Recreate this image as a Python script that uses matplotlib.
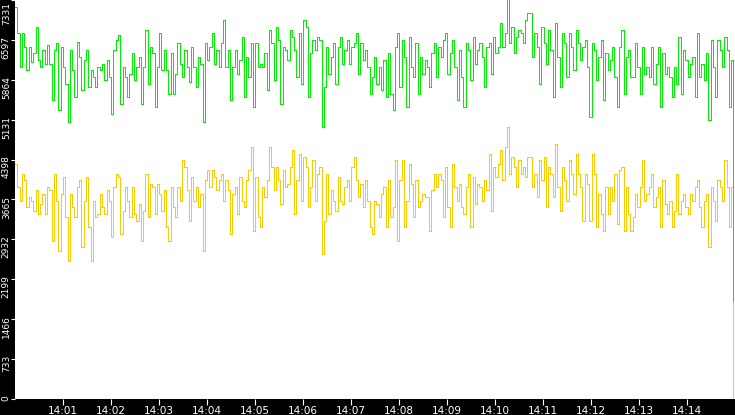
import numpy as np
import pandas as pd
import matplotlib
matplotlib.use("Agg")
import matplotlib.pyplot as plt
import matplotlib.dates as mdates
from matplotlib.transforms import ScaledTranslation

# values, one sample every ~3 s from 14:00:00
green = [
    7208, 6717, 6103, 6717, 6471, 6042, 6471, 6195, 6349, 6840, 6226, 6103, 6410, 6164, 6502,
    6164, 5490, 6410, 6533, 5305, 6471, 6103, 5796, 5090, 6410, 6042, 5550, 6564, 6287, 5673,
    6226, 6410, 5735, 6042, 5919, 5735, 6103, 6042, 6164, 5857, 6226, 5919, 5243, 6410, 6594,
    6686, 5428, 6103, 5919, 5550, 5980, 6349, 5857, 6103, 6287, 5428, 6103, 6778, 5796, 6471,
    6349, 5366, 6103, 6717, 6042, 6410, 6042, 5612, 6349, 5612, 5980, 6533, 6164, 5919, 6410,
    6103, 5827, 6471, 6103, 5735, 6287, 6164, 5090, 6533, 6226, 6471, 6717, 6164, 6410, 6103,
    6533, 6963, 6103, 6410, 5489, 6103, 6410, 5980, 6226, 6656, 5550, 6287, 5919, 6533, 5366,
    6533, 6103, 6164, 6103, 6349, 5673, 6778, 6533, 5857, 6840, 6594, 5428, 6471, 6410, 6226,
    6778, 6656, 6410, 5919, 6717, 5796, 6963, 6840, 5550, 6349, 6594, 6410, 6656, 6594, 4998,
    5735, 6471, 5980, 6287, 6533, 5796, 6471, 6656, 6164, 6410, 6594, 6164, 6471, 6533, 6717,
    5980, 6533, 6226, 6410, 6103, 5612, 5919, 6287, 5796, 6103, 5673, 6226, 5550, 6349, 5612,
    5305, 6471, 6717, 5735, 6594, 6287, 5366, 6656, 6103, 5919, 6533, 5612, 6287, 5980, 6226,
    6103, 5735, 6349, 6533, 5919, 6471, 6287, 6594, 6717, 5980, 6349, 6594, 6103, 5489, 6410,
    5919, 5366, 6533, 6410, 5857, 6656, 6164, 6410, 6533, 6287, 5735, 6471, 6533, 5980, 6656,
    6349, 6471, 6901, 6471, 6717, 7380, 6533, 6840, 6349, 6656, 6778, 6717, 6533, 6963, 7085,
    7085, 6287, 6717, 6471, 5796, 6840, 6533, 6164, 6778, 6410, 5550, 6901, 6287, 5735, 6717,
    6533, 5919, 6717, 6471, 6042, 6778, 6533, 6226, 6471, 6594, 6103, 5182, 6533, 6410, 5857,
    6287, 6594, 5489, 6349, 6042, 6226, 6471, 5919, 5366, 6471, 6778, 5612, 6287, 6410, 5919,
    5919, 6533, 6103, 5612, 6471, 5980, 6103, 5919, 6471, 5796, 6164, 6471, 5366, 6349, 5980,
    6103, 5919, 5550, 6103, 5796, 6656, 5612, 6410, 6226, 5919, 6164, 6287, 5550, 6717, 5919,
    6164, 5857, 6349, 5121, 6594, 6103, 5550, 6594, 6410, 6103, 6656, 6410, 5366, 6226, 1800,
]

yellow = [
    4322, 3893, 3647, 4138, 4015, 3524, 3708, 3647, 3463, 3831, 3401, 3586, 3770, 3401, 3893,
    3831, 2910, 4138, 3647, 2726, 3770, 4077, 3340, 2542, 3770, 3524, 3340, 3893, 4015, 2787,
    3647, 4077, 3156, 2542, 3647, 3340, 3401, 3770, 3524, 3401, 3831, 3647, 2972, 3893, 4138,
    4077, 3033, 3463, 3893, 3647, 3340, 3893, 3401, 3279, 3586, 2910, 3463, 4138, 3340, 3954,
    3893, 3401, 3954, 3770, 3463, 3831, 3156, 2910, 3893, 3524, 3340, 3893, 3647, 4384, 4261,
    3831, 3279, 4077, 3647, 3893, 3524, 3770, 2726, 4015, 4200, 3893, 4200, 4077, 3831, 4015,
    4138, 3647, 4015, 3831, 3033, 3770, 3893, 3401, 4077, 3647, 3524, 4015, 4200, 4629, 3094,
    4077, 3340, 3156, 3893, 3708, 4015, 4629, 4261, 3831, 4261, 4015, 3586, 4200, 3893, 3954,
    4261, 4568, 3401, 4015, 4507, 3647, 4445, 4261, 3524, 3893, 4384, 3647, 4138, 4261, 2665,
    3279, 4138, 3401, 3831, 3647, 3463, 4077, 3647, 3586, 3893, 4015, 3647, 4261, 4445, 4015,
    3708, 3954, 3524, 4015, 3647, 3156, 3033, 3647, 3586, 3340, 3770, 3893, 3156, 4015, 3340,
    3524, 4384, 2910, 4015, 4384, 3156, 3647, 4322, 3954, 3340, 4015, 3524, 3647, 3770, 3708,
    3708, 3094, 3831, 4138, 3893, 4138, 4015, 3340, 4261, 3524, 3156, 4322, 3893, 3647, 3954,
    3524, 3401, 3893, 4138, 3156, 4077, 3586, 3954, 3893, 3647, 4015, 3831, 4507, 3463, 4261,
    4077, 4322, 4568, 4015, 4629, 4998, 4138, 4445, 4261, 3893, 4384, 4138, 4261, 4077, 4445,
    4445, 3893, 4138, 3708, 4384, 4015, 4445, 3524, 4261, 4138, 3708, 4691, 3893, 3463, 4261,
    4015, 3647, 4384, 4138, 3770, 4507, 4138, 3893, 3279, 4138, 3954, 3279, 4507, 4138, 3156,
    3770, 3401, 3094, 3893, 3401, 3893, 3647, 4138, 3217, 4200, 4261, 3094, 3893, 3401, 3094,
    3340, 3770, 3524, 3893, 4384, 3647, 3770, 3893, 4138, 3524, 3708, 3893, 3156, 4015, 3586,
    3401, 3647, 3156, 3463, 4138, 3401, 3647, 3770, 3524, 3401, 3770, 3647, 3893, 4015, 3524,
    3156, 3647, 3770, 2787, 3893, 3647, 3279, 4015, 3893, 3647, 4384, 3893, 3156, 3893, 0,
]

y_max = 7331
y_labels = ["0", "733", "1466", "2199", "2932", "3665", "4398",
            "5131", "5864", "6597", "7331"]

t = pd.date_range("2024-01-01 14:00:00", "2024-01-01 14:14:58", periods=len(green))

fig = plt.figure(figsize=(7.35, 4.15), dpi=100, facecolor="black")
ax = fig.add_axes([15 / 735, 16 / 415, 720 / 735, 399 / 415])
ax.set_facecolor("white")

ax.plot(t, yellow, drawstyle="steps-post", color="#ffc800", lw=0.5, antialiased=False)
ax.plot(t, green, drawstyle="steps-post", color="#00ee00", lw=0.5, antialiased=False)

ax.set_xlim(pd.Timestamp("2024-01-01 14:00:00"), pd.Timestamp("2024-01-01 14:15:00"))
ax.set_ylim(0, y_max)

ax.xaxis.set_major_locator(mdates.MinuteLocator(byminute=range(1, 15)))
ax.xaxis.set_major_formatter(mdates.DateFormatter("%H:%M"))
ax.set_yticks(np.linspace(0, y_max, 11))
ax.set_yticklabels(y_labels, rotation=90, va="top")
ax.tick_params(axis="x", colors="white", labelsize=7.5, length=4, width=0.8, pad=1)
ax.tick_params(axis="y", colors="white", labelsize=6.5, length=3, width=0.8, pad=0)
for s in ax.spines.values():
    s.set_visible(False)

# nudge y labels so they sit just above their tick, like the original
labels = ax.get_yticklabels()
for i, lab in enumerate(labels):
    dy = 0.04 if i < len(labels) - 1 else -0.02
    lab.set_transform(lab.get_transform() + ScaledTranslation(0, dy, fig.dpi_scale_trans))

fig.savefig("out.png", dpi=100, facecolor="black")
